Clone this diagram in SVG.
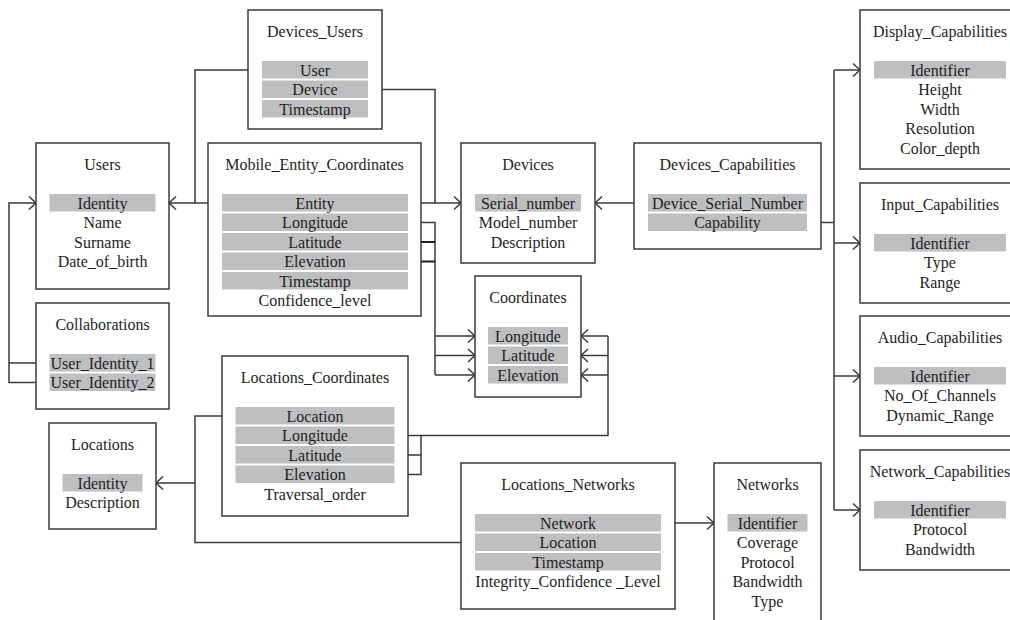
<svg xmlns="http://www.w3.org/2000/svg" width="1010" height="620" viewBox="0 0 1010 620">
<style>
.box{fill:#fff;stroke:#3a3a3a;stroke-width:1.5}
.key{fill:#bebfc1}
text{font-family:"Liberation Serif","Times New Roman",serif;font-size:16px;fill:#1e1e1e;text-anchor:middle}
.c{fill:none;stroke:#3a3a3a;stroke-width:1.5}
.cd{fill:none;stroke:#1e1e1e;stroke-width:2}
</style>
<defs>
<marker id="arr" markerUnits="userSpaceOnUse" markerWidth="20" markerHeight="20" viewBox="-10 -10 20 20" refX="0" refY="0" orient="auto" overflow="visible">
<path d="M-7,-6.5 L0,0 L-7,6.5" fill="none" stroke="#3a3a3a" stroke-width="1.5"/>
</marker>
</defs>
<rect width="1010" height="620" fill="#fff"/>

<g id="connectors">
<path class="c" d="M248,70 H195 V203 H169" marker-end="url(#arr)"/>
<path class="c" d="M208,203 H195"/>
<path class="c" d="M382,89.5 H435 V203 H461" marker-end="url(#arr)"/>
<path class="c" d="M421,203 H435"/>
<path class="c" d="M421,222.5 H435 V375"/>
<path class="cd" d="M421,242 H435 M421,261.5 H435"/>
<path class="c" d="M435,336 H475" marker-end="url(#arr)"/>
<path class="c" d="M435,355.5 H475" marker-end="url(#arr)"/>
<path class="c" d="M435,375 H475" marker-end="url(#arr)"/>
<path class="c" d="M36,363 H9 M36,382.5 H9 V203 H36" marker-end="url(#arr)"/>
<path class="c" d="M461,542.5 H195 V416 H222"/>
<path class="c" d="M195,483 H156" marker-end="url(#arr)"/>
<path class="c" d="M408,435.5 H608 V336"/>
<path class="c" d="M408,455 H421 M408,474.5 H421 V435.5"/>
<path class="c" d="M608,336 H581" marker-end="url(#arr)"/>
<path class="c" d="M608,355.5 H581" marker-end="url(#arr)"/>
<path class="c" d="M608,375 H581" marker-end="url(#arr)"/>
<path class="c" d="M634,203 H595" marker-end="url(#arr)"/>
<path class="c" d="M821,222.5 H834 M834,70 V510"/>
<path class="c" d="M834,70 H860" marker-end="url(#arr)"/>
<path class="c" d="M834,243 H860" marker-end="url(#arr)"/>
<path class="c" d="M834,376 H860" marker-end="url(#arr)"/>
<path class="c" d="M834,510 H860" marker-end="url(#arr)"/>
<path class="c" d="M675,523 H714" marker-end="url(#arr)"/>
</g>

<g id="devices_users">
<rect class="box" x="248" y="10" width="134" height="119"/>
<text x="315" y="37">Devices_Users</text>
<rect class="key" x="262" y="61" width="106" height="17.5"/>
<rect class="key" x="262" y="80.5" width="106" height="17.5"/>
<rect class="key" x="262" y="100" width="106" height="17.5"/>
<text x="315" y="75.5">User</text>
<text x="315" y="95">Device</text>
<text x="315" y="114.5">Timestamp</text>
</g>

<g id="users">
<rect class="box" x="36" y="143" width="133" height="146"/>
<text x="102.5" y="170">Users</text>
<rect class="key" x="49.5" y="194" width="106" height="17.5"/>
<text x="102.5" y="208.5">Identity</text>
<text x="102.5" y="228">Name</text>
<text x="102.5" y="247.5">Surname</text>
<text x="102.5" y="267">Date_of_birth</text>
</g>

<g id="mobile_entity_coordinates">
<rect class="box" x="208" y="143" width="213" height="173"/>
<text x="314.5" y="170">Mobile_Entity_Coordinates</text>
<rect class="key" x="222" y="194" width="186" height="17.5"/>
<rect class="key" x="222" y="213.5" width="186" height="17.5"/>
<rect class="key" x="222" y="233" width="186" height="17.5"/>
<rect class="key" x="222" y="252.5" width="186" height="17.5"/>
<rect class="key" x="222" y="272" width="186" height="17.5"/>
<text x="315" y="208.5">Entity</text>
<text x="315" y="228">Longitude</text>
<text x="315" y="247.5">Latitude</text>
<text x="315" y="267">Elevation</text>
<text x="315" y="286.5">Timestamp</text>
<text x="315" y="306">Confidence_level</text>
</g>

<g id="devices">
<rect class="box" x="461" y="143" width="134" height="120"/>
<text x="528" y="170">Devices</text>
<rect class="key" x="475" y="194" width="106" height="17.5"/>
<text x="528" y="208.5">Serial_number</text>
<text x="528" y="228">Model_number</text>
<text x="528" y="247.5">Description</text>
</g>

<g id="devices_capabilities">
<rect class="box" x="634" y="143" width="187" height="106"/>
<text x="727.5" y="170">Devices_Capabilities</text>
<rect class="key" x="648" y="194" width="159" height="17.5"/>
<rect class="key" x="648" y="213.5" width="159" height="17.5"/>
<text x="727.5" y="208.5">Device_Serial_Number</text>
<text x="727.5" y="228">Capability</text>
</g>

<g id="display_capabilities">
<rect class="box" x="860" y="10" width="160" height="159"/>
<text x="940" y="37">Display_Capabilities</text>
<rect class="key" x="874" y="61" width="132" height="17.5"/>
<text x="940" y="75.5">Identifier</text>
<text x="940" y="95">Height</text>
<text x="940" y="114.5">Width</text>
<text x="940" y="134">Resolution</text>
<text x="940" y="153.5">Color_depth</text>
</g>

<g id="input_capabilities">
<rect class="box" x="860" y="183" width="160" height="120"/>
<text x="940" y="210">Input_Capabilities</text>
<rect class="key" x="874" y="234" width="132" height="17.5"/>
<text x="940" y="248.5">Identifier</text>
<text x="940" y="268">Type</text>
<text x="940" y="287.5">Range</text>
</g>

<g id="audio_capabilities">
<rect class="box" x="860" y="316" width="160" height="120"/>
<text x="940" y="343">Audio_Capabilities</text>
<rect class="key" x="874" y="367" width="132" height="17.5"/>
<text x="940" y="381.5">Identifier</text>
<text x="940" y="401">No_Of_Channels</text>
<text x="940" y="420.5">Dynamic_Range</text>
</g>

<g id="network_capabilities">
<rect class="box" x="860" y="450" width="160" height="120"/>
<text x="940" y="477">Network_Capabilities</text>
<rect class="key" x="874" y="501" width="132" height="17.5"/>
<text x="940" y="515.5">Identifier</text>
<text x="940" y="535">Protocol</text>
<text x="940" y="554.5">Bandwidth</text>
</g>

<g id="collaborations">
<rect class="box" x="36" y="303" width="133" height="106"/>
<text x="102.5" y="330">Collaborations</text>
<rect class="key" x="49.5" y="354" width="106" height="17.5"/>
<rect class="key" x="49.5" y="373.5" width="106" height="17.5"/>
<text x="102.5" y="368.5">User_Identity_1</text>
<text x="102.5" y="388">User_Identity_2</text>
</g>

<g id="coordinates">
<rect class="box" x="475" y="276" width="106" height="121"/>
<text x="528" y="303">Coordinates</text>
<rect class="key" x="488" y="327" width="80" height="17.5"/>
<rect class="key" x="488" y="346.5" width="80" height="17.5"/>
<rect class="key" x="488" y="366" width="80" height="17.5"/>
<text x="528" y="341.5">Longitude</text>
<text x="528" y="361">Latitude</text>
<text x="528" y="380.5">Elevation</text>
</g>

<g id="locations_coordinates">
<rect class="box" x="222" y="356" width="186" height="160"/>
<text x="315" y="383">Locations_Coordinates</text>
<rect class="key" x="235.5" y="407" width="159" height="17.5"/>
<rect class="key" x="235.5" y="426.5" width="159" height="17.5"/>
<rect class="key" x="235.5" y="446" width="159" height="17.5"/>
<rect class="key" x="235.5" y="465.5" width="159" height="17.5"/>
<text x="315" y="421.5">Location</text>
<text x="315" y="441">Longitude</text>
<text x="315" y="460.5">Latitude</text>
<text x="315" y="480">Elevation</text>
<text x="315" y="499.5">Traversal_order</text>
</g>

<g id="locations">
<rect class="box" x="49" y="423" width="107" height="106"/>
<text x="102.5" y="450">Locations</text>
<rect class="key" x="62.5" y="474" width="80" height="17.5"/>
<text x="102.5" y="488.5">Identity</text>
<text x="102.5" y="508">Description</text>
</g>

<g id="locations_networks">
<rect class="box" x="461" y="463" width="214" height="146"/>
<text x="568" y="490">Locations_Networks</text>
<rect class="key" x="475" y="514" width="186" height="17.5"/>
<rect class="key" x="475" y="533.5" width="186" height="17.5"/>
<rect class="key" x="475" y="553" width="186" height="17.5"/>
<text x="568" y="528.5">Network</text>
<text x="568" y="548">Location</text>
<text x="568" y="567.5">Timestamp</text>
<text x="568" y="587">Integrity_Confidence _Level</text>
</g>

<g id="networks">
<rect class="box" x="714" y="463" width="107" height="170"/>
<text x="767.5" y="490">Networks</text>
<rect class="key" x="727.5" y="514" width="80" height="17.5"/>
<text x="767.5" y="528.5">Identifier</text>
<text x="767.5" y="548">Coverage</text>
<text x="767.5" y="567.5">Protocol</text>
<text x="767.5" y="587">Bandwidth</text>
<text x="767.5" y="606.5">Type</text>
</g>
</svg>
